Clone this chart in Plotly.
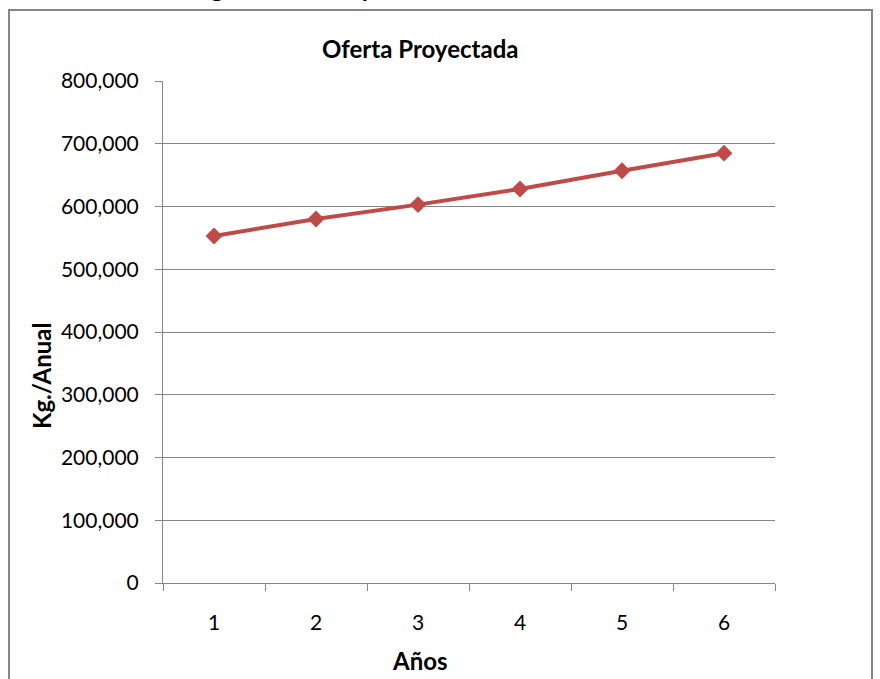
import plotly.graph_objects as go

# Oferta proyectada (Kg./Anual) por año
anios = ["1", "2", "3", "4", "5", "6"]
oferta = [553000, 580000, 603000, 628000, 657000, 685000]
y_ticks = [0, 100000, 200000, 300000, 400000, 500000, 600000, 700000, 800000]
y_labels = ["0", "100,000", "200,000", "300,000", "400,000", "500,000", "600,000", "700,000", "800,000"]

gris = "#868686"
rojo = "#BE4B48"
fuente = "Lato"

fig = go.Figure()
fig.add_trace(go.Scatter(x=anios, y=oferta, mode="lines+markers",
                         line=dict(color=rojo, width=4),
                         marker=dict(symbol="diamond", size=13, color=rojo),
                         showlegend=False))

fig.update_layout(
    width=880, height=679,
    margin=dict(l=163, r=105, t=81, b=96),
    paper_bgcolor="white", plot_bgcolor="white",
    font=dict(family=fuente, size=21, color="black"),
    xaxis=dict(type="category", range=[-0.5, 5.5], tickson="boundaries",
               ticks="outside", ticklen=7, tickcolor=gris, tickwidth=1,
               showline=True, linecolor=gris, linewidth=1, showgrid=False,
               ticklabelstandoff=21, tickfont=dict(size=21)),
    yaxis=dict(range=[0, 800000], tickvals=y_ticks, ticktext=y_labels,
               ticks="outside", ticklen=7, tickcolor=gris, tickwidth=1,
               showline=True, linecolor=gris, linewidth=1,
               showgrid=True, gridcolor=gris, gridwidth=1, zeroline=False,
               ticklabelstandoff=12, tickfont=dict(size=21)),
)

# marco del gráfico (coordenadas en píxeles relativas al área de trazado)
def px_x(p):
    return (p - 163) / 612

def px_y(p):
    return (583 - p) / 502

fig.add_shape(type="rect", xref="paper", yref="paper",
              x0=px_x(9), x1=px_x(872), y0=px_y(700), y1=px_y(10),
              line=dict(color=gris, width=2), layer="below")

# textos (el título superior queda cortado como en la imagen original)
fig.add_annotation(text="<b>Figura N° 3 Proyección Oferta Anual</b>", xref="paper", yref="paper",
                   x=px_x(392), y=px_y(4), xanchor="center", yanchor="bottom",
                   showarrow=False, font=dict(size=25))
fig.add_annotation(text="<b>Oferta Proyectada</b>", xref="paper", yref="paper",
                   x=px_x(420), y=px_y(48), xanchor="center", yanchor="middle",
                   showarrow=False, font=dict(size=24))
fig.add_annotation(text="<b>Años</b>", xref="paper", yref="paper",
                   x=px_x(420), y=px_y(660), xanchor="center", yanchor="middle",
                   showarrow=False, font=dict(size=24))
fig.add_annotation(text="<b>Kg./Anual</b>", xref="paper", yref="paper",
                   x=px_x(42), y=px_y(376), xanchor="center", yanchor="middle",
                   textangle=-90, showarrow=False, font=dict(size=24))

fig.write_html("out.html", config={"displayModeBar": False},
               post_script="document.body.style.margin='0';")
